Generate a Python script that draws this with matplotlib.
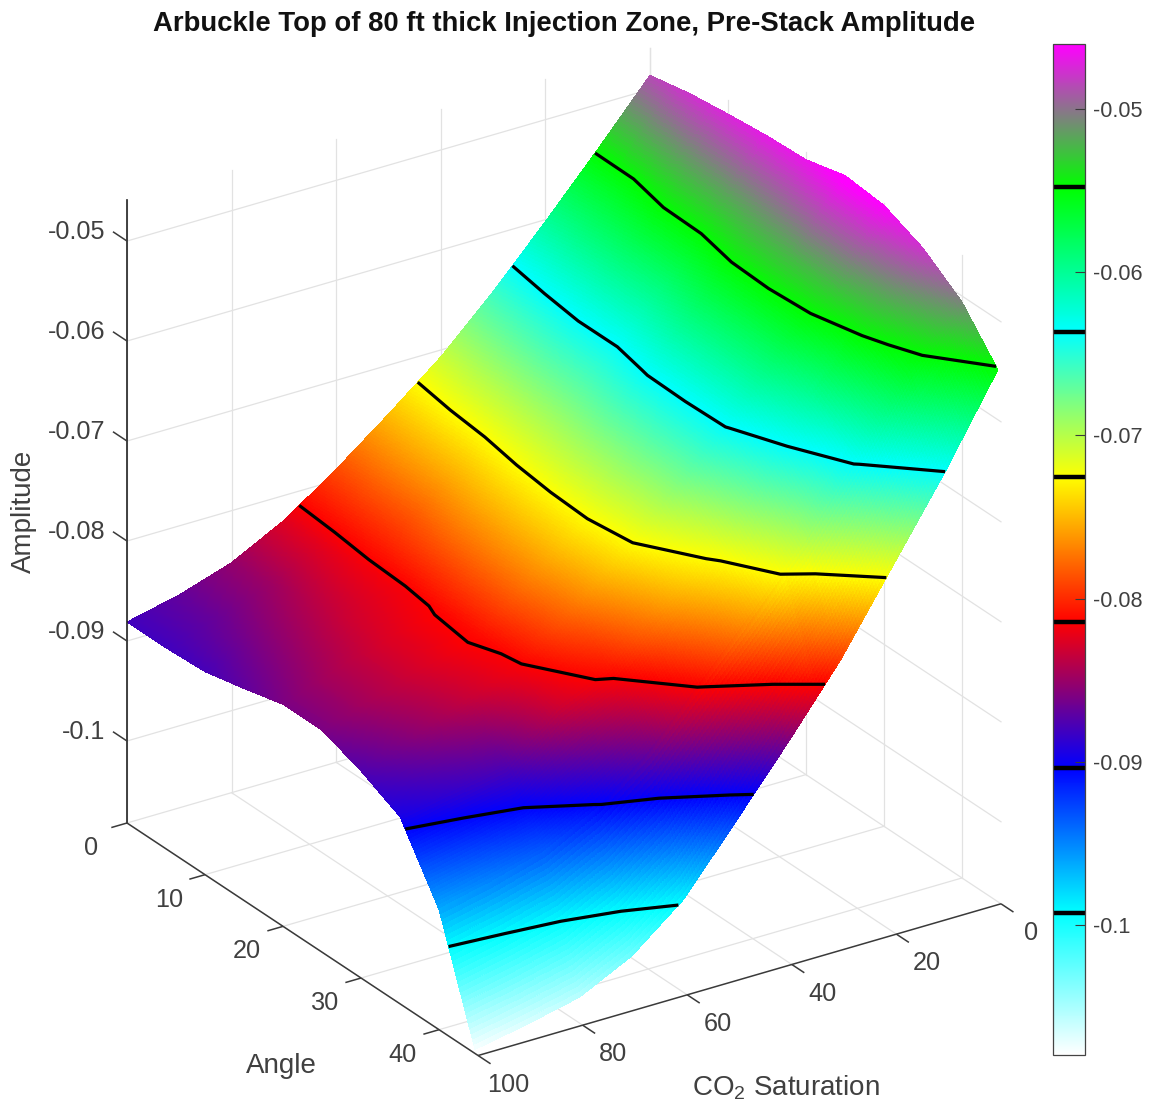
import numpy as np
import matplotlib
matplotlib.use("Agg")
import matplotlib.pyplot as plt
from matplotlib.colors import LinearSegmentedColormap, Normalize
from matplotlib.cm import ScalarMappable
from mpl_toolkits.mplot3d import proj3d

plt.rcParams['font.family'] = ['Liberation Sans', 'DejaVu Sans']
plt.rcParams['mathtext.default'] = 'regular'

W, H = 1150, 1111
TITLE = "Arbuckle Top of 80 ft thick Injection Zone, Pre-Stack Amplitude"

co2_values = [100, 90, 80, 70, 60, 50, 40, 30, 20, 10, 0]
angle_values = [0, 5, 10, 15, 20, 25, 30, 35, 40, 44.6]

amp_angle_00 = [-.0881, -.0869, -.0852, -.0825, -.0789, -.0749, -.0707, -.0657, -.0602, -.0545, -.0486]
amp_angle_05 = [-.0881, -.0867, -.0849, -.0823, -.0785, -.0745, -.0700, -.0650, -.0594, -.0545, -.0478]
amp_angle_10 = [-.0879, -.0859, -.0840, -.0819, -.0784, -.0742, -.0695, -.0644, -.0590, -.0535, -.0473]
amp_angle_15 = [-.0870, -.0851, -.0832, -.0818, -.0776, -.0735, -.0690, -.0644, -.0591, -.0533, -.0469]
amp_angle_20 = [-.0860, -.0843, -.0827, -.0813, -.0771, -.0731, -.0684, -.0635, -.0580, -.0524, -.0467]
amp_angle_25 = [-.0860, -.0843, -.0827, -.0811, -.0769, -.0729, -.0682, -.0634, -.0579, -.0521, -.0457]
amp_angle_30 = [-.0875, -.0855, -.0835, -.0817, -.0778, -.0735, -.0686, -.0635, -.0580, -.0526, -.0461]
amp_angle_35 = [-.0895, -.0885, -.0875, -.0832, -.0808, -.0762, -.0719, -.0659, -.0603, -.0537, -.0478]
amp_angle_40 = [-.0962, -.0950, -.0935, -.0908, -.0866, -.0811, -.0756, -.0698, -.0632, -.0561, -.0506]
amp_angle_45 = [-.1078, -.1068, -.1056, -.1030, -.0988, -.0925, -.0861, -.0794, -.0715, -.0636, -.0550]

contour_levels = [-.09926, -.09038, -.08144, -.07255, -.06366, -.05478]
cmap_stops = [-.10797, -.09926, -.09038, -.08144, -.07255, -.06366, -.05478, -.04602]
cmap_colors = ['#ffffff', '#00ffff', '#0000ff', '#ff0000', '#ffff00', '#00ffff', '#00ff00', '#ff00ff']

angle_ticks = [0, 10, 20, 30, 40]
co2_ticks = [0, 20, 40, 60, 80, 100]
z_ticks = [-0.1, -0.09, -0.08, -0.07, -0.06, -0.05]
z_tick_labels = ['-0.1', '-0.09', '-0.08', '-0.07', '-0.06', '-0.05']
cbar_tick_labels = z_tick_labels

co2_lim = (0, 100)
angle_lim = (0, 45)
z_lim = (-0.1082, -0.0459)

amp = np.array([amp_angle_00, amp_angle_05, amp_angle_10, amp_angle_15, amp_angle_20,
                amp_angle_25, amp_angle_30, amp_angle_35, amp_angle_40, amp_angle_45])
co2 = np.array(co2_values, float)[::-1]
ang = np.array(angle_values, float)
amp = amp[:, ::-1]

vmin, vmax = cmap_stops[0], cmap_stops[-1]
norm = Normalize(vmin, vmax)
cmap = LinearSegmentedColormap.from_list(
    'amp', [((v - vmin) / (vmax - vmin), c) for v, c in zip(cmap_stops, cmap_colors)], N=1024)

fig = plt.figure(figsize=(W / 100, H / 100), dpi=100, facecolor='white')
ax = fig.add_axes([0.1, 0.1, 0.8, 0.8], projection='3d', computed_zorder=False)
ax.set_proj_type('ortho')
ax.view_init(elev=26.0, azim=56.5)
ax.set_box_aspect((627, 636, 693))
ax.set_xlim(*co2_lim, view_margin=0)
ax.set_ylim(*angle_lim, view_margin=0)
ax.set_zlim(*z_lim, view_margin=0)
ax.set_xticks([])
ax.set_yticks([])
ax.set_zticks([])
ax.set_axis_off()
ax.patch.set_alpha(0)

# place the axes so the floor corners land where the reference has them
M = ax.get_proj()
p0 = proj3d.proj_transform(100, 0, z_lim[0], M)
p1 = proj3d.proj_transform(0, 45, z_lim[0], M)
s = (1001 - 127) / (p1[0] - p0[0])
vl = ax.viewLim
side = s * vl.width
left = 127 - s * (p0[0] - vl.x0)
bottom_px = 823 + s * (p0[1] - vl.y0)
ax.set_position([left / W, 1 - bottom_px / H, side / W, side / H])

GRID = '#e2e2e2'
EDGE = '#3a3a3a'
TXT = '#404040'
zl, zh = z_lim

def line(xs, ys, zs, **kw):
    ax.plot(xs, ys, zs, **kw)

def label3d(x, y, z, text, **kw):
    xp, yp, _ = proj3d.proj_transform(x, y, z, M)
    ax.text2D(xp, yp, text, transform=ax.transData, va='center', fontsize=18.2, color=TXT, **kw)

g = dict(color=GRID, lw=0.9, zorder=1)
for c in co2_ticks:
    line([c, c], [0, 45], [zl, zl], **g)
    line([c, c], [0, 0], [zl, zh], **g)
for a in angle_ticks:
    line([0, 100], [a, a], [zl, zl], **g)
    line([0, 0], [a, a], [zl, zh], **g)
for z in z_ticks:
    line([0, 100], [0, 0], [z, z], **g)
    line([0, 0], [0, 45], [z, z], **g)

# surface, subdivided for smooth colour between the read values
fine_co2 = np.linspace(co2[0], co2[-1], 261)
fine_ang = np.linspace(ang[0], ang[-1], 261)
tmp = np.array([np.interp(fine_co2, co2, row) for row in amp])
fine = np.array([np.interp(fine_ang, ang, col) for col in tmp.T]).T
FX, FY = np.meshgrid(fine_co2, fine_ang)
ax.plot_surface(FX, FY, fine, rstride=1, cstride=1, cmap=cmap, norm=norm, shade=False,
                linewidth=0, antialiased=False, zorder=2)
CX, CY = np.meshgrid(co2, ang)
ax.contour(CX, CY, amp, levels=contour_levels, colors='k', linewidths=2.3,
           linestyles='solid', zorder=3)

e = dict(color=EDGE, lw=1.1, zorder=4, solid_capstyle='butt')
line([100, 100], [0, 0], [zl, zh], color='#222222', lw=1.2, zorder=4)
line([100, 100], [0, 45], [zl, zl], **e)
line([0, 100], [45, 45], [zl, zl], **e)
for z, lab in zip(z_ticks, z_tick_labels):
    line([100, 100], [0, -1.8], [z, z], **e)
    label3d(104.2, 0, z + .00155, lab, ha='right')
for a in angle_ticks:
    line([100, 103], [a, a], [zl, zl], **e)
    label3d(106.9, a, zl - .00145, str(a), ha='center')
for c in co2_ticks:
    line([c, c], [45, 46.6], [zl, zl], **e)
    label3d(c, 48.9, zl - .0009, str(c), ha='center')

def ftext(px, py, t, **kw):
    return fig.text(px / W, 1 - py / H, t, ha='center', va='center', **kw)

ftext(564, 24, TITLE, fontsize=19.8, fontweight='bold', color='#111111')
ftext(24, 511, 'Amplitude', fontsize=20, color=TXT, rotation=90)
ftext(281, 1066, 'Angle', fontsize=20, color=TXT)
ftext(786, 1088, 'CO$_2$ Saturation', fontsize=20, color=TXT)

# colour bar
cax = fig.add_axes([1053 / W, 1 - 1055 / H, 32 / W, (1055 - 44) / H])
cb = fig.colorbar(ScalarMappable(norm=norm, cmap=cmap), cax=cax)
cb.set_ticks(z_ticks)
cb.set_ticklabels(cbar_tick_labels)
cax.tick_params(axis='y', direction='in', length=7.5, width=0.8, color=EDGE,
                labelsize=15.6, labelcolor=TXT, pad=6)
cb.outline.set_edgecolor('#444444')
cb.outline.set_linewidth(0.9)
cax.hlines(contour_levels, 0, 1, colors='k', lw=3.2, transform=cax.get_yaxis_transform())

fig.savefig('out.png', dpi=100, facecolor='white')
